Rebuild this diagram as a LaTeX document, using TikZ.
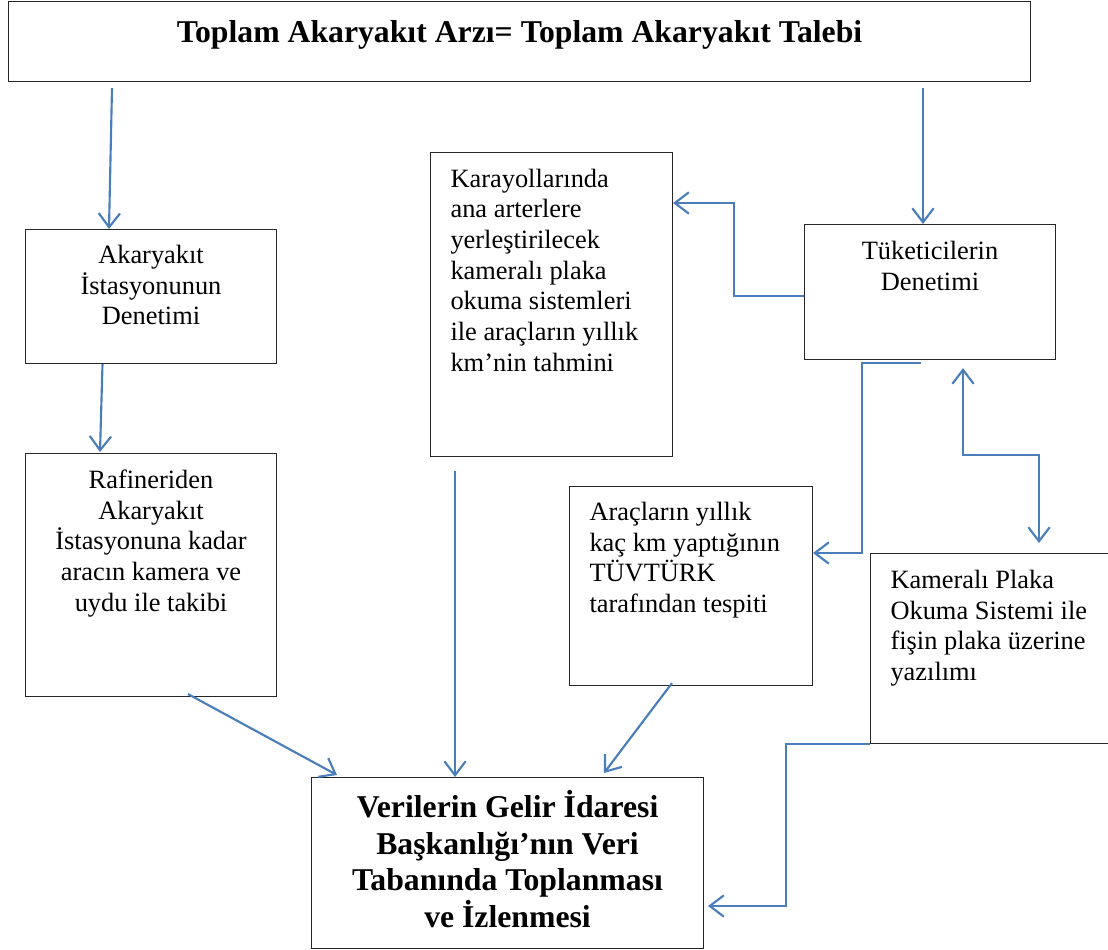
\documentclass[tikz,border=0pt]{standalone}
\usepackage{fontspec}
\setmainfont{Liberation Serif}
\usepackage{xcolor}
\usepackage{tikz}
\usetikzlibrary{arrows.meta,calc}

\definecolor{arrowblue}{HTML}{4A7EBB}
\newcommand{\bodyfont}{\fontsize{19.8pt}{23pt}\selectfont}
\newcommand{\headfont}{\fontsize{23.8pt}{27.5pt}\selectfont\bfseries}
% width, height, first baseline, text
\newcommand{\midtext}[4]{\parbox[c][#2][t]{#1}{\centering\rule{0pt}{#3}#4}}
\newcommand{\lefttext}[4]{\parbox[c][#2][t]{#1}{\raggedright\leftskip=15pt\rule{0pt}{#3}#4}}

\tikzset{
  vtip/.tip={Straight Barb[length=10.5pt,width=16pt]},
  box/.style={draw=black!85, line width=0.8pt, inner sep=0pt, anchor=north west},
  link/.style={draw=arrowblue, line width=1.6pt, -{vtip}}
}

\begin{document}
\begin{tikzpicture}[x=0.75pt, y=-0.75pt]
    \useasboundingbox (0,0) rectangle (1108,950);
    \clip (0,0) rectangle (1108,950);

    % Title
    \node[box, font=\headfont] (title) at (8,1) {\midtext{766.5pt}{60pt}{30.75pt}{Toplam Akaryakıt Arzı= Toplam Akaryakıt Talebi}};

    % Left column
    \node[box, font=\bodyfont] (station) at (25,229) {\midtext{188.25pt}{100.5pt}{25.5pt}{Akaryakıt\\İstasyonunun\\Denetimi}};
    \node[box, font=\bodyfont] (refinery) at (25,453) {\midtext{188.25pt}{182.25pt}{26.25pt}{Rafineriden\\Akaryakıt\\İstasyonuna kadar\\aracın kamera ve\\uydu ile takibi}};

    % Middle and right
    \node[box, font=\bodyfont] (highway) at (430,152) {\lefttext{181.5pt}{228pt}{26pt}{Karayollarında\\ana arterlere\\yerleştirilecek\\kameralı plaka\\okuma sistemleri\\ile araçların yıllık\\km’nin tahmini}};
    \node[box, font=\bodyfont] (consumer) at (804,224) {\midtext{188.25pt}{101.25pt}{26.25pt}{Tüketicilerin\\Denetimi}};
    \node[box, font=\bodyfont] (survey) at (569,486) {\lefttext{182.25pt}{149.25pt}{25.5pt}{Araçların yıllık\\kaç km yaptığının\\TÜVTÜRK\\tarafından tespiti}};
    \node[box, font=\bodyfont] (camera) at (870,553) {\lefttext{187.5pt}{142.5pt}{26.25pt}{Kameralı Plaka\\Okuma Sistemi ile\\fişin plaka üzerine\\yazılımı}};

    % Database
    \node[box, font=\headfont] (database) at (311,777) {\midtext{294pt}{128.25pt}{30pt}{Verilerin Gelir İdaresi\\Başkanlığı’nın Veri\\Tabanında Toplanması\\ve İzlenmesi}};

    % Arrows
    \coordinate (t1) at ($(title.south west)+(104,6)$);
    \coordinate (t2) at ($(title.south west)+(915,6)$);
    \draw[link] (t1) -- ($(station.north west)+(84,0)$);
    \draw[link] ($(station.south west)+(77.5,0)$) -- ($(refinery.north west)+(75,-1)$);
    \draw[link] (t2) -- (t2 |- consumer.north);
    \draw[link] ($(consumer.north west)+(0,72)$) -- ++(-70,0) |- ($(highway.north east)+(0,51)$);
    \draw[link] ($(consumer.south west)+(117,3)$) -- ++(-59,0) |- ($(survey.north east)+(0,67)$);
    \draw[link, {vtip}-{vtip}] ($(consumer.south west)+(159,8)$) |- ($(camera.north west)+(169,-98)$) -- ($(camera.north west)+(169,-10)$);
    \coordinate (h1) at ($(highway.south west)+(25,14)$);
    \draw[link] ($(refinery.south west)+(163,-3)$) -- ($(database.north west)+(26,-2)$);
    \draw[link] (h1) -- (h1 |- database.north);
    \draw[link] ($(survey.south west)+(103,-3)$) -- ($(database.north west)+(293,-4)$);
    \draw[link] (camera.south west) -- ++(-84,0) |- ($(database.north east)+(4,129)$);
\end{tikzpicture}
\end{document}
